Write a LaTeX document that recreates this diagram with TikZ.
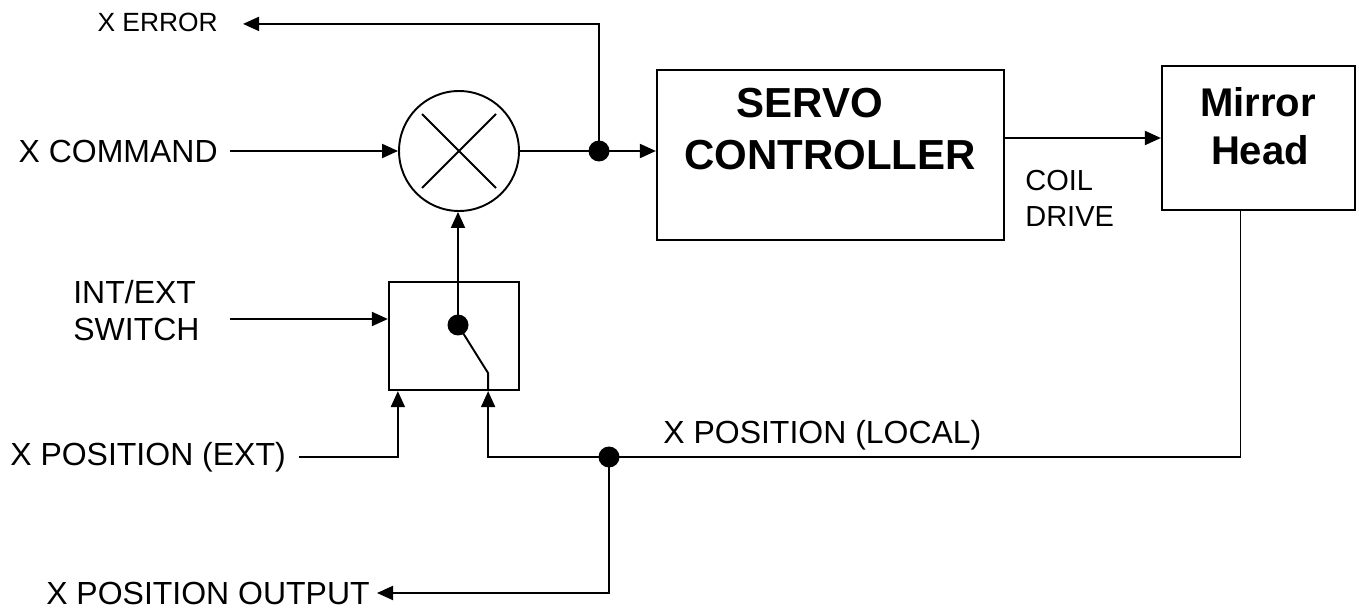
\documentclass[tikz,border=0pt]{standalone}
\usepackage{fontspec}
\setmainfont{Liberation Sans}
\usetikzlibrary{arrows.meta,calc}
\begin{document}
\begin{tikzpicture}[x=0.02cm,y=-0.02cm,
  line/.style={line width=1.1pt},
  arr/.style={line width=1.1pt,-{Triangle[length=0.32cm,width=0.28cm]}},
  blk/.style={draw,line width=1.3pt,inner sep=0pt},
  dot/.style={circle,fill,inner sep=0pt,minimum size=0.42cm},
  lbl/.style={inner sep=0pt,font=\fontsize{18.2}{22}\selectfont},
  small/.style={inner sep=0pt,font=\fontsize{15}{18}\selectfont},
  coil/.style={inner sep=0pt,font=\fontsize{16.5}{20}\selectfont},
  big/.style={inner sep=0pt,font=\bfseries\fontsize{23.9}{28}\selectfont},
  mid/.style={inner sep=0pt,font=\bfseries\fontsize{22.8}{27}\selectfont}]
\useasboundingbox (0,0) rectangle (1359,611);
% blocks
\node[draw,line width=1.1pt,circle,minimum size=2.4cm,inner sep=0pt] (sum) at (459,151) {};
\draw[line width=1.1pt] ($(sum)+(-37,-37)$) -- ($(sum)+(37,37)$);
\draw[line width=1.1pt] ($(sum)+(-37,37)$) -- ($(sum)+(37,-37)$);
\node[blk,minimum width=6.94cm,minimum height=3.4cm] (servo) at (830.5,155) {};
\node[blk,minimum width=3.86cm,minimum height=2.88cm] (mirror) at (1258.5,138) {};
\node[blk,minimum width=2.6cm,minimum height=2.16cm] (sw) at (454,336) {};
% texts
\node[big,anchor=base] (t1) at (810,118) {SERVO};
\node[big,anchor=base] (t2) at (830,170) {CONTROLLER};
\node[mid,anchor=base] (t3) at (1258,117) {Mirror};
\node[mid,anchor=base] (t4) at (1260,165) {Head};
\node[coil,anchor=base west] (coil) at (1025,191) {COIL};
\node[coil,anchor=base west] (drive) at (1025,227) {DRIVE};
\node[small,anchor=base east] (err) at (218,32) {X ERROR};
\node[lbl,anchor=base east] (cmd) at (218,163) {X COMMAND};
\node[lbl,anchor=base west] (ie1) at (73,303) {INT/EXT};
\node[lbl,anchor=base west] (ie2) at (73,340) {SWITCH};
\node[lbl,anchor=base west] (ext) at (10,465) {X POSITION (EXT)};
\node[lbl,anchor=base west] (loc) at (663,443) {X POSITION (LOCAL)};
\node[lbl,anchor=base east] (outp) at (370,604) {X POSITION OUTPUT};
% junctions
\node[dot] (j1) at (599,151) {};
\node[dot] (j2) at (609,457) {};
\node[dot] (sd) at (458,325) {};
% connectors
\draw[arr] ([xshift=0.24cm]cmd.east |- sum.west) -- (sum.west);
\draw[line] (sum.east) -- (j1.center);
\draw[arr] (j1.center) -- (servo.west |- j1);
\draw[arr] (j1.center) |- ($(err.east)+(25,1)$);
\coordinate (cd) at ($(servo.east)+(0,-17)$);
\draw[arr] (cd) -- (cd -| mirror.west);
\coordinate (ms) at ($(mirror.south)+(-18,0)$);
\draw[line] (ms) |- (j2.center);
\draw[arr] (j2.center) -| ($(sw.south east)+(-32,0)$);
\draw[arr] ($(ext.east)+(13,0)$) -| ($(sw.south west)+(10,0)$);
\draw[arr] (j2.center) |- ($(outp.east)+(7,0)$);
\coordinate (ia) at (230,319);
\draw[arr] (ia) -- (ia -| sw.west);
\coordinate (pv) at ($(sw.south east)+(-32,-18)$);
\draw[line] ($(sw.south east)+(-32,0)$) -- (pv) -- (sd.center);
\draw[arr] (sd.center) -- (sd |- sum.south);
\end{tikzpicture}
\end{document}
